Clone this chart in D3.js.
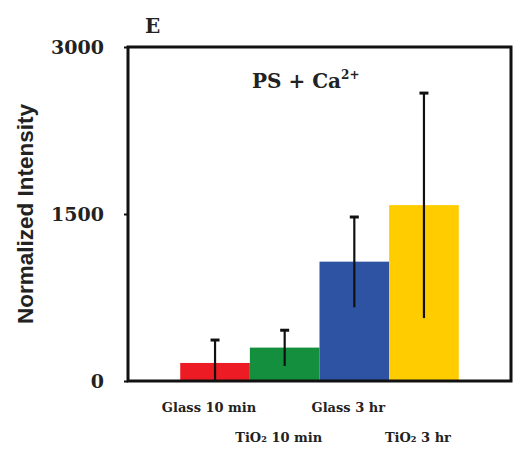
<!DOCTYPE html>
<html><head><meta charset="utf-8">
<script src="https://cdn.jsdelivr.net/npm/d3@7"></script>
<style>body{margin:0;background:#fff}</style>
</head><body>
<svg id="c" width="517" height="452"></svg>
<script>
const categories = ["Glass 10 min", "TiO\u2082 10 min", "Glass 3 hr", "TiO\u2082 3 hr"];
const values = [162, 300, 1072, 1580];
const errors = [215, 165, 410, 1015];
const colors = ["#ed1c24", "#138f3e", "#2f53a3", "#ffcc00"];
const yTicks = [0, 1500, 3000];

const svg = d3.select("#c");
const L = 128, R = 511, T = 47, B = 381;
const x = d3.scaleBand().domain(categories).range([L, R]).paddingInner(0).paddingOuter(0.75);
const y = d3.scaleLinear().domain([0, 3000]).range([B, T]);

// bars
svg.selectAll("rect.bar").data(categories).join("rect")
  .attr("x", d => x(d)).attr("width", x.bandwidth())
  .attr("y", (d, i) => y(values[i])).attr("height", (d, i) => B - y(values[i]))
  .attr("fill", (d, i) => colors[i]);

// error bars
const eg = svg.append("g").attr("stroke", "#111");
categories.forEach((c, i) => {
  const cx = x(c) + x.bandwidth() / 2;
  const top = y(values[i] + errors[i]);
  const bot = y(Math.max(0, values[i] - errors[i]));
  eg.append("line").attr("x1", cx).attr("x2", cx).attr("y1", top).attr("y2", bot).attr("stroke-width", 2.2);
  eg.append("line").attr("x1", cx - 4.5).attr("x2", cx + 4.5).attr("y1", top + 1).attr("y2", top + 1).attr("stroke-width", 3);
});

// frame
svg.append("rect").attr("x", L).attr("y", T).attr("width", R - L).attr("height", B - T)
  .attr("fill", "none").attr("stroke", "#111").attr("stroke-width", 3);

// y axis
const ya = svg.append("g").attr("transform", `translate(${L},0)`)
  .call(d3.axisLeft(y).tickValues(yTicks).tickSize(4).tickPadding(20).tickFormat(d3.format("d")));
ya.select(".domain").remove();
ya.selectAll("line").attr("stroke", "#111").attr("stroke-width", 2);
ya.selectAll("text").attr("font-family", "DejaVu Serif").attr("font-weight", "bold")
  .attr("font-size", 19).attr("fill", "#222");

// x labels
svg.selectAll("text.xl").data(categories).join("text")
  .attr("x", (d, i) => x(d) + x.bandwidth() / 2 - 6)
  .attr("y", (d, i) => i % 2 === 0 ? 412 : 442)
  .attr("text-anchor", "middle")
  .attr("font-family", "DejaVu Serif").attr("font-weight", "bold").attr("font-size", 13)
  .attr("fill", "#222").text(d => d);

// y label
svg.append("text").attr("transform", "translate(33,214) rotate(-90)")
  .attr("text-anchor", "middle").attr("font-family", "Liberation Sans").attr("font-weight", "bold")
  .attr("font-size", 22.5).attr("fill", "#222").text("Normalized Intensity");

// panel letter
svg.append("text").attr("x", 145).attr("y", 33).attr("font-family", "DejaVu Serif")
  .attr("font-weight", "bold").attr("font-size", 20).attr("fill", "#222").text("E");

// title
const t = svg.append("text").attr("x", 252).attr("y", 88).attr("font-family", "DejaVu Serif")
  .attr("font-weight", "bold").attr("font-size", 20).attr("fill", "#222");
t.append("tspan").text("PS + Ca");
t.append("tspan").attr("dy", -9).attr("font-size", 12).text("2+");
</script>
</body></html>
